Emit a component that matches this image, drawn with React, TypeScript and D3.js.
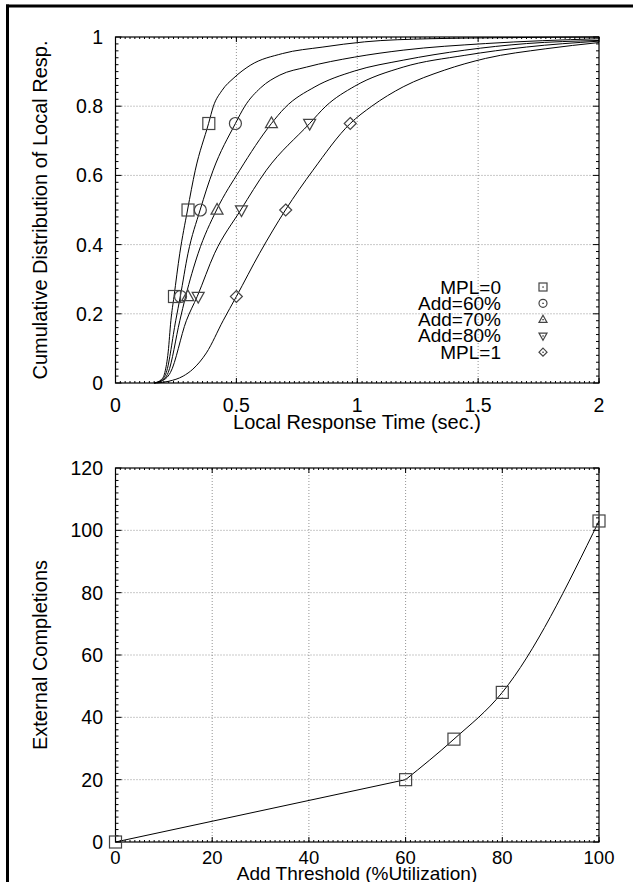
import React from "react";
import * as d3 from "d3";

// ---------- DATA ----------
const seriesNames = ["MPL=0", "Add=60%", "Add=70%", "Add=80%", "MPL=1"];
const seriesShapes = ["square", "circle", "triangle", "downTriangle", "diamond"];

const cdfMPL0: [number, number][] = [
  [0.16, 0], [0.19, 0.01], [0.204, 0.03], [0.218, 0.09], [0.229, 0.18], [0.242, 0.25],
  [0.266, 0.375], [0.298, 0.5], [0.33, 0.615], [0.385, 0.75], [0.405, 0.8], [0.44, 0.845],
  [0.49, 0.882], [0.557, 0.918], [0.69, 0.952], [0.858, 0.971], [1.03, 0.986], [1.3, 0.995],
  [1.6, 0.998], [2, 1.0],
];
const cdfAdd60: [number, number][] = [
  [0.16, 0], [0.19, 0.008], [0.21, 0.03], [0.249, 0.18], [0.268, 0.25], [0.3, 0.375],
  [0.35, 0.5], [0.404, 0.615], [0.496, 0.75], [0.535, 0.8], [0.6, 0.853], [0.68, 0.89],
  [0.79, 0.913], [0.99, 0.942], [1.19, 0.962], [1.53, 0.981], [2, 0.995],
];
const cdfAdd70: [number, number][] = [
  [0.16, 0], [0.19, 0.006], [0.218, 0.03], [0.266, 0.18], [0.29, 0.25], [0.342, 0.375],
  [0.418, 0.5], [0.514, 0.615], [0.645, 0.75], [0.7, 0.795], [0.825, 0.856], [0.99, 0.902],
  [1.19, 0.933], [1.445, 0.962], [1.7, 0.981], [2, 0.99],
];
const cdfAdd80: [number, number][] = [
  [0.16, 0], [0.19, 0.005], [0.227, 0.03], [0.293, 0.18], [0.338, 0.25], [0.41, 0.375],
  [0.518, 0.5], [0.624, 0.615], [0.803, 0.75], [0.87, 0.8], [0.99, 0.858], [1.19, 0.913],
  [1.445, 0.947], [1.7, 0.971], [2, 0.988],
];
const cdfMPL1: [number, number][] = [
  [0.17, 0], [0.22, 0.005], [0.28, 0.02], [0.32, 0.04], [0.376, 0.087], [0.445, 0.18],
  [0.5, 0.25], [0.596, 0.375], [0.703, 0.5], [0.817, 0.615], [0.971, 0.75], [1.06, 0.8],
  [1.19, 0.856], [1.36, 0.904], [1.53, 0.938], [1.78, 0.966], [2, 0.984],
];
const cdfSeries = [cdfMPL0, cdfAdd60, cdfAdd70, cdfAdd80, cdfMPL1];

// quartile marker positions (time at 25%, 50%, 75%)
const quartileLevels = [0.25, 0.5, 0.75];
const quartilesMPL0 = [0.244, 0.3, 0.386];
const quartilesAdd60 = [0.269, 0.351, 0.496];
const quartilesAdd70 = [0.299, 0.42, 0.645];
const quartilesAdd80 = [0.342, 0.521, 0.803];
const quartilesMPL1 = [0.5, 0.704, 0.971];
const quartileSeries = [quartilesMPL0, quartilesAdd60, quartilesAdd70, quartilesAdd80, quartilesMPL1];

const topXTicks = [0, 0.5, 1, 1.5, 2];
const topYTicks = [0, 0.2, 0.4, 0.6, 0.8, 1];

const thresholds = [0, 60, 70, 80, 100];
const completions = [0, 20, 33, 48, 103];
const bottomXTicks = [0, 20, 40, 60, 80, 100];
const bottomYTicks = [0, 20, 40, 60, 80, 100, 120];

// ---------- LAYOUT ----------
const W = 633;
const H = 882;
const FONT = "'Liberation Sans', Arial, Helvetica, sans-serif";
const FS = 20;
const TFS = 19.5;
const MARK = "#444";

function Marker({ shape, x, y, size, dot }: { shape: string; x: number; y: number; size: number; dot?: boolean }) {
  const h = size / 2;
  const common = { fill: "none", stroke: MARK, strokeWidth: 1.2 };
  let el: React.ReactNode = null;
  if (shape === "square") el = <rect x={x - h} y={y - h} width={size} height={size} {...common} />;
  else if (shape === "circle") el = <circle cx={x} cy={y} r={h} {...common} />;
  else if (shape === "triangle")
    el = <path d={`M${x},${y - h * 1.1}L${x + h},${y + h * 0.7}L${x - h},${y + h * 0.7}Z`} {...common} />;
  else if (shape === "downTriangle")
    el = <path d={`M${x},${y + h * 1.1}L${x + h},${y - h * 0.7}L${x - h},${y - h * 0.7}Z`} {...common} />;
  else if (shape === "diamond")
    el = <path d={`M${x},${y - h}L${x + h},${y}L${x},${y + h}L${x - h},${y}Z`} {...common} />;
  return (
    <g>
      {el}
      {dot ? <rect x={x - 0.6} y={y - 0.6} width={1.3} height={1.3} fill="#222" /> : null}
    </g>
  );
}

function Frame({
  x, y, xTicks, yTicks, xMinor, yMinor, labelDy, xLabelSize,
}: {
  x: d3.ScaleLinear<number, number>;
  y: d3.ScaleLinear<number, number>;
  xTicks: number[]; yTicks: number[]; xMinor: number[]; yMinor: number[]; labelDy: number; xLabelSize: number;
}) {
  const [x0, x1] = x.range();
  const [y0, y1] = y.range(); // y0 bottom, y1 top
  const grid = { stroke: "#777", strokeWidth: 0.8, strokeDasharray: "1,2" };
  return (
    <g>
      {xTicks.slice(1, -1).map((t) => (
        <line key={"gx" + t} x1={x(t)} x2={x(t)} y1={y0} y2={y1} {...grid} />
      ))}
      {yTicks.slice(1, -1).map((t) => (
        <line key={"gy" + t} x1={x0} x2={x1} y1={y(t)} y2={y(t)} {...grid} />
      ))}
      {yMinor.map((t, i) => (
        <g key={"my" + i}>
          <line x1={x0} x2={x0 + 3} y1={y(t)} y2={y(t)} stroke="#000" />
          <line x1={x1} x2={x1 - 3} y1={y(t)} y2={y(t)} stroke="#000" />
        </g>
      ))}
      {xMinor.map((t, i) => (
        <g key={"mx" + i}>
          <line x1={x(t)} x2={x(t)} y1={y0} y2={y0 - 2} stroke="#000" />
          <line x1={x(t)} x2={x(t)} y1={y1} y2={y1 + 2} stroke="#000" />
        </g>
      ))}
      {xTicks.map((t) => (
        <g key={"tx" + t}>
          <line x1={x(t)} x2={x(t)} y1={y0} y2={y0 - 5} stroke="#000" />
          <line x1={x(t)} x2={x(t)} y1={y1} y2={y1 + 5} stroke="#000" />
          <text x={x(t)} y={y0 + labelDy} textAnchor="middle" fontSize={xLabelSize} fontFamily={FONT}>
            {String(t)}
          </text>
        </g>
      ))}
      {yTicks.map((t) => (
        <g key={"ty" + t}>
          <line x1={x0} x2={x0 + 6} y1={y(t)} y2={y(t)} stroke="#000" />
          <line x1={x1} x2={x1 - 6} y1={y(t)} y2={y(t)} stroke="#000" />
          <text x={x0 - 12.5} y={y(t) + 7} textAnchor="end" fontSize={TFS} fontFamily={FONT}>
            {String(t)}
          </text>
        </g>
      ))}
      <rect x={x0} y={y1} width={x1 - x0} height={y0 - y1} fill="none" stroke="#000" strokeWidth={1.2} />
    </g>
  );
}

export default function App() {
  // Top chart
  const xT = d3.scaleLinear().domain([0, 2]).range([115.5, 599]);
  const yT = d3.scaleLinear().domain([0, 1]).range([383, 37]);
  const lineT = d3
    .line<[number, number]>()
    .x((d) => xT(d[0]))
    .y((d) => yT(d[1]))
    .curve(d3.curveMonotoneX);
  const topYMinor = d3.range(0, 1.0001, 0.02).filter((v) => Math.abs(v * 5 - Math.round(v * 5)) > 1e-6);
  const topXMinor = d3.range(0, 2.0001, 0.02);

  // Bottom chart
  const xB = d3.scaleLinear().domain([0, 100]).range([115.5, 599]);
  const yB = d3.scaleLinear().domain([0, 120]).range([842, 468]);
  const bottomPts: [number, number][] = thresholds.map((t, i) => [t, completions[i]]);
  const lineBLinear = d3
    .line<[number, number]>()
    .x((d) => xB(d[0]))
    .y((d) => yB(d[1]));
  const lineBCurve = d3
    .line<[number, number]>()
    .x((d) => xB(d[0]))
    .y((d) => yB(d[1]))
    .curve(d3.curveMonotoneX);
  const botYMinor = d3.range(0, 120.001, 2).filter((v) => v % 20 !== 0);
  const botXMinor = d3.range(0, 100.001, 1);

  const legendTextX = 501;
  const legendSymX = 543;
  const legendY0 = 287;
  const legendDy = 16.3;

  return (
    <svg width={W} height={H} style={{ position: "absolute", left: 0, top: 0, background: "#fff" }}>
      <rect x={0} y={0} width={W} height={H} fill="#fff" />
      {/* page border */}
      <line x1={7.5} x2={7.5} y1={4.5} y2={H} stroke="#000" strokeWidth={3} />
      <line x1={6} x2={W} y1={6} y2={6} stroke="#000" strokeWidth={3} />

      {/* ---- top chart ---- */}
      <Frame
        x={xT} y={yT} xTicks={topXTicks} yTicks={topYTicks}
        xMinor={topXMinor} yMinor={topYMinor} labelDy={29} xLabelSize={TFS}
      />
      {cdfSeries.map((s, i) => (
        <path key={"c" + i} d={lineT(s) || ""} fill="none" stroke="#000" strokeWidth={1} />
      ))}
      {quartileSeries.map((qs, i) =>
        qs.map((q, j) => (
          <Marker key={"q" + i + "-" + j} shape={seriesShapes[i]} x={xT(q)} y={yT(quartileLevels[j])} size={12} />
        ))
      )}
      {seriesNames.map((n, i) => (
        <g key={"lg" + i}>
          <text
            x={legendTextX} y={legendY0 + i * legendDy + 6.5}
            textAnchor="end" fontSize={19} fontFamily={FONT}
          >
            {n}
          </text>
          <Marker shape={seriesShapes[i]} x={legendSymX} y={legendY0 + i * legendDy} size={8} dot />
        </g>
      ))}
      <text x={357} y={429} textAnchor="middle" fontSize={FS} fontFamily={FONT}>
        Local Response Time (sec.)
      </text>
      <text
        transform={`translate(47,210) rotate(-90)`}
        textAnchor="middle" fontSize={FS} fontFamily={FONT}
      >
        Cumulative Distribution of Local Resp.
      </text>

      {/* ---- bottom chart ---- */}
      <Frame
        x={xB} y={yB} xTicks={bottomXTicks} yTicks={bottomYTicks}
        xMinor={botXMinor} yMinor={botYMinor} labelDy={22} xLabelSize={18.5}
      />
      <path d={lineBLinear(bottomPts.slice(0, 2)) || ""} fill="none" stroke="#000" strokeWidth={1} />
      <path d={lineBCurve(bottomPts.slice(1)) || ""} fill="none" stroke="#000" strokeWidth={1} />
      {completions.map((c, i) => (
        <Marker key={"b" + i} shape="square" x={xB(thresholds[i])} y={yB(c)} size={12} />
      ))}
      <text x={357} y={879.5} textAnchor="middle" fontSize={19} fontFamily={FONT}>
        Add Threshold (%Utilization)
      </text>
      <text
        transform={`translate(47,655) rotate(-90)`}
        textAnchor="middle" fontSize={FS} fontFamily={FONT}
      >
        External Completions
      </text>
    </svg>
  );
}
